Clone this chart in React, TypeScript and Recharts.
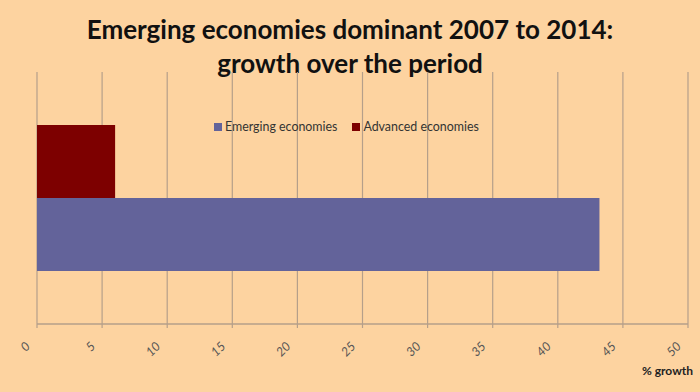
import React from 'react';
import { BarChart, Bar, XAxis, YAxis, CartesianGrid } from 'recharts';

const categories = ['2007-2014'];
const emergingValues = [43.2];
const advancedValues = [6.0];
const xTicks = [0, 5, 10, 15, 20, 25, 30, 35, 40, 45, 50];
const seriesNames = ['Emerging economies', 'Advanced economies'];
const titleLines = ['Emerging economies dominant 2007 to 2014:', 'growth over the period'];
const axisTitle = '% growth';

const BG = '#FDD3A0';
const EMERGING = '#63639A';
const ADVANCED = '#7D0000';
const GRID = '#B59F8A';

const data = categories.map((c, i) => ({
  name: c,
  emerging: emergingValues[i],
  advanced: advancedValues[i],
}));

const FONT = 'Lato, "Open Sans", sans-serif';

const Tick = (props: any) => {
  const { x, y, payload } = props;
  return (
    <g transform={`translate(${x - 6},${y + 17})`}>
      <text
        x={0}
        y={0}
        textAnchor="end"
        transform="rotate(-45)"
        fontSize={12.5}
        fontStyle="italic"
        fill="#555"
        fontFamily={FONT}
      >
        {payload.value}
      </text>
    </g>
  );
};

const LegendBox = () => {
  const colors = [EMERGING, ADVANCED];
  return (
    <div
      style={{
        position: 'absolute',
        left: 214,
        top: 119,
        display: 'flex',
        alignItems: 'center',
        fontFamily: FONT,
        fontSize: 12.4,
        color: '#333',
        whiteSpace: 'nowrap',
      }}
    >
      {seriesNames.map((n, i) => (
        <div key={n} style={{ display: 'flex', alignItems: 'center', marginRight: i === 0 ? 15 : 0 }}>
          <span style={{ display: 'inline-block', width: 8, height: 8, background: colors[i], marginRight: 3 }} />
          <span>{n}</span>
        </div>
      ))}
    </div>
  );
};

export default function App() {
  return (
    <div style={{ position: 'absolute', left: 0, top: 0, width: 700, height: 392, background: BG, overflow: 'hidden' }}>
      <div
        style={{
          position: 'absolute',
          left: 0,
          top: 12,
          width: 700,
          textAlign: 'center',
          fontFamily: FONT,
          fontWeight: 700,
          fontSize: 26,
          lineHeight: '34px',
          color: '#111',
        }}
      >
        {titleLines.map((t) => (
          <div key={t}>{t}</div>
        ))}
      </div>
      <div style={{ position: 'absolute', left: 0, top: 0 }}>
        <BarChart
          width={700}
          height={392}
          data={data}
          layout="vertical"
          margin={{ top: 72, right: 12, bottom: 0, left: 37 }}
          barGap={0}
        >
          <CartesianGrid horizontal={false} vertical={true} stroke={GRID} strokeWidth={1.2} />
          <XAxis
            type="number"
            domain={[0, 50]}
            ticks={xTicks}
            interval={0}
            height={68}
            axisLine={{ stroke: GRID, strokeWidth: 1.5 }}
            tickLine={{ stroke: GRID, strokeWidth: 1.2 }}
            tickSize={4}
            tick={<Tick />}
          />
          <YAxis type="category" dataKey="name" hide width={0} />
          <Bar dataKey="advanced" name={seriesNames[1]} fill={ADVANCED} barSize={73} isAnimationActive={false} />
          <Bar dataKey="emerging" name={seriesNames[0]} fill={EMERGING} barSize={73} isAnimationActive={false} />
        </BarChart>
      </div>
      <LegendBox />
      <div
        style={{
          position: 'absolute',
          right: 7,
          top: 363,
          fontFamily: FONT,
          fontWeight: 700,
          fontSize: 12,
          color: '#222',
        }}
      >
        {axisTitle}
      </div>
    </div>
  );
}
